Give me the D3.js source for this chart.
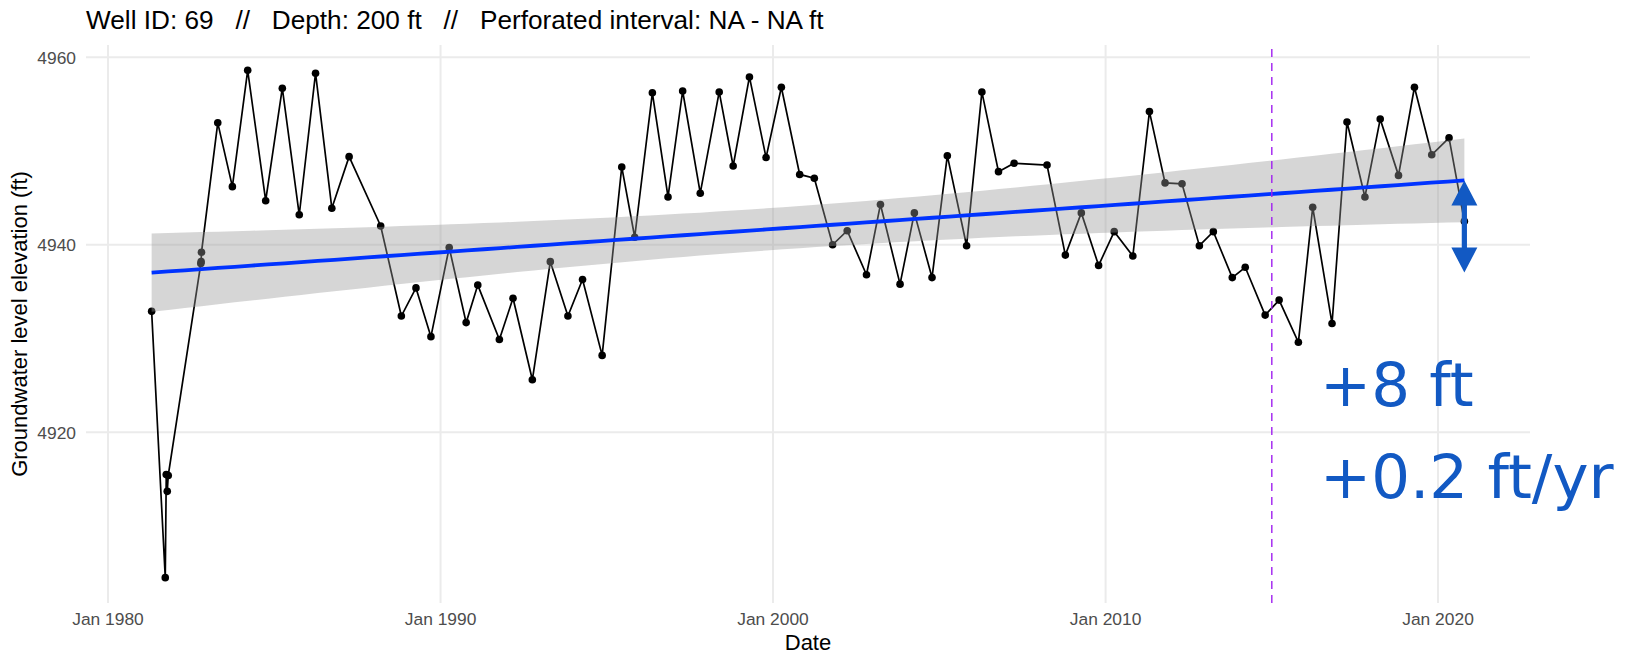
<!DOCTYPE html>
<html>
<head>
<meta charset="utf-8">
<script src="https://cdn.jsdelivr.net/npm/d3@7"></script>
<style>
  body { margin: 0; background: #ffffff; }
  svg { display: block; font-family: "Liberation Sans", Arial, Helvetica, sans-serif; }
</style>
</head>
<body>
<svg id="chart" width="1652" height="656"></svg>
<script>
// Groundwater level observations for well 69 (decimal year, elevation in ft)
const obsYears = [
  1981.31, 1981.72, 1981.75, 1981.78, 1981.81, 1982.79, 1982.80, 1982.81,
  1983.30, 1983.74, 1984.20, 1984.74, 1985.24, 1985.75, 1986.24, 1986.73,
  1987.25, 1988.20, 1988.82, 1989.26, 1989.71, 1990.26, 1990.77, 1991.12,
  1991.77, 1992.18, 1992.76, 1993.30, 1993.83, 1994.27, 1994.86, 1995.45,
  1995.84, 1996.37, 1996.84, 1997.28, 1997.81, 1998.38, 1998.80, 1999.29,
  1999.79, 2000.25, 2000.80, 2001.24, 2001.79, 2002.23, 2002.81, 2003.23,
  2003.82, 2004.25, 2004.78, 2005.24, 2005.82, 2006.28, 2006.78, 2007.25,
  2008.24, 2008.79, 2009.27, 2009.79, 2010.26, 2010.82, 2011.32, 2011.79,
  2012.30, 2012.82, 2013.24, 2013.81, 2014.20, 2014.80, 2015.22, 2015.80,
  2016.23, 2016.81, 2017.26, 2017.80, 2018.26, 2018.81, 2019.29, 2019.81,
  2020.33, 2020.79
];
const obsLevels = [
  4932.9, 4904.5, 4915.5, 4913.7, 4915.4, 4938.0, 4938.2, 4939.2,
  4953.0, 4946.2, 4958.6, 4944.7, 4956.7, 4943.2, 4958.3, 4943.9,
  4949.4, 4942.0, 4932.4, 4935.4, 4930.2, 4939.7, 4931.7, 4935.7,
  4929.9, 4934.3, 4925.6, 4938.2, 4932.4, 4936.3, 4928.2, 4948.3,
  4940.8, 4956.2, 4945.1, 4956.4, 4945.5, 4956.3, 4948.4, 4957.9,
  4949.3, 4956.8, 4947.5, 4947.1, 4940.0, 4941.5, 4936.8, 4944.3,
  4935.8, 4943.4, 4936.5, 4949.5, 4939.9, 4956.3, 4947.8, 4948.7,
  4948.5, 4938.9, 4943.4, 4937.8, 4941.4, 4938.8, 4954.2, 4946.6,
  4946.5, 4939.9, 4941.4, 4936.5, 4937.6, 4932.5, 4934.1, 4929.6,
  4944.0, 4931.6, 4953.1, 4945.1, 4953.4, 4947.4, 4956.8, 4949.6,
  4951.4, 4942.5
];

const xTickYears = [1980, 1990, 2000, 2010, 2020];
const yTickValues = [4920, 4940, 4960];
const breakYear = 2015;            // reference date marked by the dashed line
const titleText = "Well ID: 69   //   Depth: 200 ft   //   Perforated interval: NA - NA ft";
const xTitle = "Date";
const yTitle = "Groundwater level elevation (ft)";
const changeLabels = ["+8 ft", "+0.2 ft/yr"];
const changeLabelAnchor = { year: 2016.45, levels: [4922.8, 4913.0] };

// ---- helpers ----
function yearToDate(y) {
  const yr = Math.floor(y);
  const start = Date.UTC(yr, 0, 1), end = Date.UTC(yr + 1, 0, 1);
  return new Date(start + (y - yr) * (end - start));
}

const data = obsYears.map((y, i) => ({ year: y, date: yearToDate(y), level: obsLevels[i] }));

// ---- panel ----
const panel = { left: 86, right: 1530, top: 45, bottom: 603 };
const svg = d3.select("#chart");

const d0 = d3.min(data, d => d.date), d1 = d3.max(data, d => d.date);
const span = d1 - d0;
const x = d3.scaleUtc()
  .domain([new Date(+d0 - 0.05 * span), new Date(+d1 + 0.05 * span)])
  .range([panel.left, panel.right]);

const [lo, hi] = d3.extent(data, d => d.level);
const pad = 0.05 * (hi - lo);
const y = d3.scaleLinear().domain([lo - pad, hi + pad]).range([panel.bottom, panel.top]);

// ---- linear fit with 95% confidence band ----
const n = data.length;
const xm = d3.mean(data, d => d.year), ym = d3.mean(data, d => d.level);
const sxx = d3.sum(data, d => (d.year - xm) ** 2);
const sxy = d3.sum(data, d => (d.year - xm) * (d.level - ym));
const slope = sxy / sxx, intercept = ym - slope * xm;
const resid = d3.sum(data, d => (d.level - (intercept + slope * d.year)) ** 2);
const sigma = Math.sqrt(resid / (n - 2));
function tQuantile975(df) {
  const z = 1.959964;
  return z + (z ** 3 + z) / (4 * df) + (5 * z ** 5 + 16 * z ** 3 + 3 * z) / (96 * df * df);
}
const tq = tQuantile975(n - 2);
const yFirst = data[0].year, yLast = data[n - 1].year;
const fit = d3.range(80).map(i => {
  const yr = yFirst + (yLast - yFirst) * i / 79;
  const fitted = intercept + slope * yr;
  const se = sigma * Math.sqrt(1 / n + (yr - xm) ** 2 / sxx);
  return { date: yearToDate(yr), fitted, lower: fitted - tq * se, upper: fitted + tq * se };
});

// ---- grid ----
const grid = svg.append("g").attr("stroke", "#EBEBEB").attr("stroke-width", 2);
grid.selectAll("line.h").data(yTickValues).join("line")
  .attr("x1", panel.left).attr("x2", panel.right)
  .attr("y1", d => y(d)).attr("y2", d => y(d));
grid.selectAll("line.v").data(xTickYears).join("line")
  .attr("y1", panel.top).attr("y2", panel.bottom)
  .attr("x1", d => x(yearToDate(d))).attr("x2", d => x(yearToDate(d)));

// ---- axes text ----
svg.append("g").selectAll("text").data(yTickValues).join("text")
  .attr("x", panel.left - 10).attr("y", d => y(d)).attr("dy", "0.36em")
  .attr("text-anchor", "end").attr("fill", "#4D4D4D").attr("font-size", 17.4)
  .text(d => d);

const fmt = d3.utcFormat("%b %Y");
svg.append("g").selectAll("text").data(xTickYears).join("text")
  .attr("x", d => x(yearToDate(d))).attr("y", 625)
  .attr("text-anchor", "middle").attr("fill", "#4D4D4D").attr("font-size", 17.4)
  .text(d => fmt(yearToDate(d)));

svg.append("text")
  .attr("x", (panel.left + panel.right) / 2).attr("y", 650)
  .attr("text-anchor", "middle").attr("font-size", 22).attr("fill", "#000")
  .text(xTitle);

svg.append("text")
  .attr("transform", `translate(27,${(panel.top + panel.bottom) / 2}) rotate(-90)`)
  .attr("text-anchor", "middle").attr("font-size", 22).attr("fill", "#000")
  .text(yTitle);

svg.append("text")
  .attr("x", 86).attr("y", 29)
  .attr("font-size", 26.2).attr("fill", "#000")
  .style("white-space", "pre")
  .text(titleText);

// ---- observations ----
svg.append("path").datum(data)
  .attr("fill", "none").attr("stroke", "#000").attr("stroke-width", 1.7)
  .attr("d", d3.line().x(d => x(d.date)).y(d => y(d.level)));

svg.append("g").selectAll("circle").data(data).join("circle")
  .attr("cx", d => x(d.date)).attr("cy", d => y(d.level)).attr("r", 3.8)
  .attr("fill", "#000");

// ---- trend band and line ----
svg.append("path").datum(fit)
  .attr("fill", "#999999").attr("fill-opacity", 0.4)
  .attr("d", d3.area().x(d => x(d.date)).y0(d => y(d.lower)).y1(d => y(d.upper)));

svg.append("path").datum(fit)
  .attr("fill", "none").attr("stroke", "#0033FF").attr("stroke-width", 3.8)
  .attr("d", d3.line().x(d => x(d.date)).y(d => y(d.fitted)));

// ---- reference date ----
const bx = x(yearToDate(breakYear));
svg.append("line")
  .attr("x1", bx).attr("x2", bx).attr("y1", panel.bottom).attr("y2", panel.top)
  .attr("stroke", "#A020F0").attr("stroke-width", 1.4).attr("stroke-dasharray", "8,6");

// ---- change arrow (fitted start to fitted end, at the last observation) ----
const arrowColor = "#1259C3";
const ax = x(fit[fit.length - 1].date);
const yTop = y(fit[fit.length - 1].fitted);
const yBot = y(fit[0].fitted);
const headLen = 25, headHalf = 13, shaftHalf = 2.6;
const arrowPath = [
  [ax, yTop], [ax + headHalf, yTop + headLen], [ax + shaftHalf, yTop + headLen],
  [ax + shaftHalf, yBot - headLen], [ax + headHalf, yBot - headLen], [ax, yBot],
  [ax - headHalf, yBot - headLen], [ax - shaftHalf, yBot - headLen],
  [ax - shaftHalf, yTop + headLen], [ax - headHalf, yTop + headLen]
];
svg.append("path")
  .attr("d", d3.line()(arrowPath) + "Z")
  .attr("fill", arrowColor);

// ---- change labels ----
svg.append("g").selectAll("text").data(changeLabels).join("text")
  .attr("x", x(yearToDate(changeLabelAnchor.year)))
  .attr("y", (d, i) => y(changeLabelAnchor.levels[i]))
  .style("font-family", "'DejaVu Sans', sans-serif")
  .attr("font-size", 61).attr("fill", arrowColor)
  .text(d => d);
</script>
</body>
</html>
